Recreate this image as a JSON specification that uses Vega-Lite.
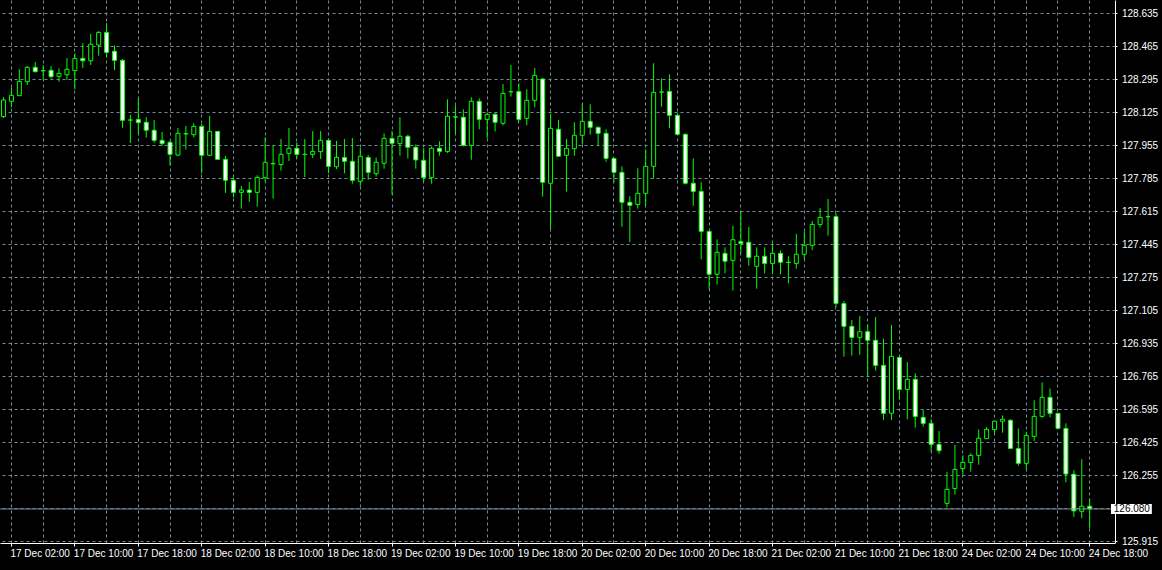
{
  "$schema": "https://vega.github.io/schema/vega-lite/v6.json",
  "width": 1115,
  "height": 543,
  "autosize": {"type": "none"},
  "padding": {"left": 0, "top": 0, "right": 47, "bottom": 27},
  "background": "#000000",
  "config": {
    "view": {"stroke": null},
    "axis": {
      "labelFont": "Liberation Sans",
      "labelFontSize": 10,
      "labelColor": "#FFFFFF",
      "domainColor": "#FFFFFF",
      "domainWidth": 1,
      "tickColor": "#FFFFFF",
      "tickWidth": 1,
      "gridColor": "#778899",
      "gridDash": [3, 3],
      "gridWidth": 1,
      "gridOpacity": 1,
      "labelOverlap": false,
      "labelBound": false,
      "labelFlush": false,
      "title": null
    }
  },
  "data": {
    "values": [
      {"i": -1, "t": "2018-12-17 01:00", "o": 128.101, "h": 128.202, "l": 128.094, "c": 128.187},
      {"i": 0, "t": "2018-12-17 02:00", "o": 128.180, "h": 128.252, "l": 128.149, "c": 128.211},
      {"i": 1, "t": "2018-12-17 03:00", "o": 128.209, "h": 128.345, "l": 128.209, "c": 128.283},
      {"i": 2, "t": "2018-12-17 04:00", "o": 128.281, "h": 128.362, "l": 128.264, "c": 128.355},
      {"i": 3, "t": "2018-12-17 05:00", "o": 128.355, "h": 128.383, "l": 128.328, "c": 128.333},
      {"i": 4, "t": "2018-12-17 06:00", "o": 128.338, "h": 128.365, "l": 128.293, "c": 128.337},
      {"i": 5, "t": "2018-12-17 07:00", "o": 128.340, "h": 128.362, "l": 128.297, "c": 128.307},
      {"i": 6, "t": "2018-12-17 08:00", "o": 128.309, "h": 128.350, "l": 128.281, "c": 128.324},
      {"i": 7, "t": "2018-12-17 09:00", "o": 128.317, "h": 128.403, "l": 128.290, "c": 128.345},
      {"i": 8, "t": "2018-12-17 10:00", "o": 128.338, "h": 128.427, "l": 128.242, "c": 128.401},
      {"i": 9, "t": "2018-12-17 11:00", "o": 128.401, "h": 128.480, "l": 128.352, "c": 128.389},
      {"i": 10, "t": "2018-12-17 12:00", "o": 128.389, "h": 128.527, "l": 128.367, "c": 128.474},
      {"i": 11, "t": "2018-12-17 13:00", "o": 128.470, "h": 128.542, "l": 128.415, "c": 128.535},
      {"i": 12, "t": "2018-12-17 14:00", "o": 128.535, "h": 128.583, "l": 128.407, "c": 128.432},
      {"i": 13, "t": "2018-12-17 15:00", "o": 128.438, "h": 128.468, "l": 128.341, "c": 128.391},
      {"i": 14, "t": "2018-12-17 16:00", "o": 128.391, "h": 128.398, "l": 128.043, "c": 128.082},
      {"i": 15, "t": "2018-12-17 17:00", "o": 128.083, "h": 128.110, "l": 127.965, "c": 128.084},
      {"i": 16, "t": "2018-12-17 18:00", "o": 128.087, "h": 128.192, "l": 128.013, "c": 128.070},
      {"i": 17, "t": "2018-12-17 19:00", "o": 128.072, "h": 128.098, "l": 127.993, "c": 128.031},
      {"i": 18, "t": "2018-12-17 20:00", "o": 128.031, "h": 128.084, "l": 127.967, "c": 127.979},
      {"i": 19, "t": "2018-12-17 21:00", "o": 127.979, "h": 128.022, "l": 127.950, "c": 127.962},
      {"i": 20, "t": "2018-12-17 22:00", "o": 127.969, "h": 127.977, "l": 127.849, "c": 127.907},
      {"i": 21, "t": "2018-12-17 23:00", "o": 127.903, "h": 128.043, "l": 127.898, "c": 128.015},
      {"i": 22, "t": "2018-12-18 00:00", "o": 128.013, "h": 128.053, "l": 127.931, "c": 128.012},
      {"i": 23, "t": "2018-12-18 01:00", "o": 128.008, "h": 128.067, "l": 127.995, "c": 128.051},
      {"i": 24, "t": "2018-12-18 02:00", "o": 128.051, "h": 128.063, "l": 127.809, "c": 127.902},
      {"i": 25, "t": "2018-12-18 03:00", "o": 127.902, "h": 128.104, "l": 127.900, "c": 128.025},
      {"i": 26, "t": "2018-12-18 04:00", "o": 128.025, "h": 128.027, "l": 127.879, "c": 127.881},
      {"i": 27, "t": "2018-12-18 05:00", "o": 127.881, "h": 127.898, "l": 127.708, "c": 127.773},
      {"i": 28, "t": "2018-12-18 06:00", "o": 127.773, "h": 127.788, "l": 127.685, "c": 127.711},
      {"i": 29, "t": "2018-12-18 07:00", "o": 127.711, "h": 127.744, "l": 127.627, "c": 127.723},
      {"i": 30, "t": "2018-12-18 08:00", "o": 127.723, "h": 127.764, "l": 127.663, "c": 127.711},
      {"i": 31, "t": "2018-12-18 09:00", "o": 127.711, "h": 127.799, "l": 127.637, "c": 127.788},
      {"i": 32, "t": "2018-12-18 10:00", "o": 127.787, "h": 127.995, "l": 127.766, "c": 127.866},
      {"i": 33, "t": "2018-12-18 11:00", "o": 127.860, "h": 127.953, "l": 127.679, "c": 127.858},
      {"i": 34, "t": "2018-12-18 12:00", "o": 127.854, "h": 127.986, "l": 127.823, "c": 127.907},
      {"i": 35, "t": "2018-12-18 13:00", "o": 127.912, "h": 128.043, "l": 127.873, "c": 127.938},
      {"i": 36, "t": "2018-12-18 14:00", "o": 127.938, "h": 127.969, "l": 127.885, "c": 127.907},
      {"i": 37, "t": "2018-12-18 15:00", "o": 127.907, "h": 127.986, "l": 127.790, "c": 127.906},
      {"i": 38, "t": "2018-12-18 16:00", "o": 127.907, "h": 128.027, "l": 127.888, "c": 127.922},
      {"i": 39, "t": "2018-12-18 17:00", "o": 127.921, "h": 128.027, "l": 127.883, "c": 127.979},
      {"i": 40, "t": "2018-12-18 18:00", "o": 127.979, "h": 127.989, "l": 127.809, "c": 127.845},
      {"i": 41, "t": "2018-12-18 19:00", "o": 127.843, "h": 127.976, "l": 127.831, "c": 127.891},
      {"i": 42, "t": "2018-12-18 20:00", "o": 127.891, "h": 127.986, "l": 127.809, "c": 127.871},
      {"i": 43, "t": "2018-12-18 21:00", "o": 127.871, "h": 127.991, "l": 127.756, "c": 127.773},
      {"i": 44, "t": "2018-12-18 22:00", "o": 127.768, "h": 127.940, "l": 127.742, "c": 127.897},
      {"i": 45, "t": "2018-12-18 23:00", "o": 127.891, "h": 127.903, "l": 127.776, "c": 127.814},
      {"i": 46, "t": "2018-12-19 00:00", "o": 127.807, "h": 127.891, "l": 127.792, "c": 127.866},
      {"i": 47, "t": "2018-12-19 01:00", "o": 127.861, "h": 128.015, "l": 127.833, "c": 127.989},
      {"i": 48, "t": "2018-12-19 02:00", "o": 127.989, "h": 128.027, "l": 127.699, "c": 127.964},
      {"i": 49, "t": "2018-12-19 03:00", "o": 127.962, "h": 128.098, "l": 127.900, "c": 128.000},
      {"i": 50, "t": "2018-12-19 04:00", "o": 128.000, "h": 128.007, "l": 127.885, "c": 127.943},
      {"i": 51, "t": "2018-12-19 05:00", "o": 127.943, "h": 127.958, "l": 127.833, "c": 127.878},
      {"i": 52, "t": "2018-12-19 06:00", "o": 127.876, "h": 127.938, "l": 127.766, "c": 127.788},
      {"i": 53, "t": "2018-12-19 07:00", "o": 127.788, "h": 127.948, "l": 127.756, "c": 127.938},
      {"i": 54, "t": "2018-12-19 08:00", "o": 127.938, "h": 127.974, "l": 127.900, "c": 127.922},
      {"i": 55, "t": "2018-12-19 09:00", "o": 127.922, "h": 128.190, "l": 127.914, "c": 128.103},
      {"i": 56, "t": "2018-12-19 10:00", "o": 128.100, "h": 128.159, "l": 128.015, "c": 128.099},
      {"i": 57, "t": "2018-12-19 11:00", "o": 128.098, "h": 128.139, "l": 127.948, "c": 127.953},
      {"i": 58, "t": "2018-12-19 12:00", "o": 127.953, "h": 128.201, "l": 127.879, "c": 128.180},
      {"i": 59, "t": "2018-12-19 13:00", "o": 128.180, "h": 128.195, "l": 128.036, "c": 128.087},
      {"i": 60, "t": "2018-12-19 14:00", "o": 128.087, "h": 128.123, "l": 127.989, "c": 128.113},
      {"i": 61, "t": "2018-12-19 15:00", "o": 128.113, "h": 128.123, "l": 128.025, "c": 128.072},
      {"i": 62, "t": "2018-12-19 16:00", "o": 128.067, "h": 128.269, "l": 128.056, "c": 128.221},
      {"i": 63, "t": "2018-12-19 17:00", "o": 128.229, "h": 128.367, "l": 128.204, "c": 128.230},
      {"i": 64, "t": "2018-12-19 18:00", "o": 128.230, "h": 128.273, "l": 128.077, "c": 128.087},
      {"i": 65, "t": "2018-12-19 19:00", "o": 128.092, "h": 128.242, "l": 128.056, "c": 128.185},
      {"i": 66, "t": "2018-12-19 20:00", "o": 128.185, "h": 128.352, "l": 128.149, "c": 128.314},
      {"i": 67, "t": "2018-12-19 21:00", "o": 128.295, "h": 128.300, "l": 127.689, "c": 127.763},
      {"i": 68, "t": "2018-12-19 22:00", "o": 127.758, "h": 128.116, "l": 127.522, "c": 128.041},
      {"i": 69, "t": "2018-12-19 23:00", "o": 128.036, "h": 128.084, "l": 127.895, "c": 127.897},
      {"i": 70, "t": "2018-12-20 00:00", "o": 127.902, "h": 127.986, "l": 127.715, "c": 127.938},
      {"i": 71, "t": "2018-12-20 01:00", "o": 127.936, "h": 128.072, "l": 127.900, "c": 128.005},
      {"i": 72, "t": "2018-12-20 02:00", "o": 128.005, "h": 128.165, "l": 127.958, "c": 128.077},
      {"i": 73, "t": "2018-12-20 03:00", "o": 128.077, "h": 128.165, "l": 128.008, "c": 128.046},
      {"i": 74, "t": "2018-12-20 04:00", "o": 128.046, "h": 128.051, "l": 127.953, "c": 128.015},
      {"i": 75, "t": "2018-12-20 05:00", "o": 128.015, "h": 128.036, "l": 127.869, "c": 127.886},
      {"i": 76, "t": "2018-12-20 06:00", "o": 127.886, "h": 127.886, "l": 127.763, "c": 127.814},
      {"i": 77, "t": "2018-12-20 07:00", "o": 127.814, "h": 127.845, "l": 127.534, "c": 127.660},
      {"i": 78, "t": "2018-12-20 08:00", "o": 127.660, "h": 127.691, "l": 127.454, "c": 127.644},
      {"i": 79, "t": "2018-12-20 09:00", "o": 127.649, "h": 127.835, "l": 127.627, "c": 127.706},
      {"i": 80, "t": "2018-12-20 10:00", "o": 127.706, "h": 127.933, "l": 127.642, "c": 127.845},
      {"i": 81, "t": "2018-12-20 11:00", "o": 127.845, "h": 128.376, "l": 127.783, "c": 128.226},
      {"i": 82, "t": "2018-12-20 12:00", "o": 128.227, "h": 128.298, "l": 128.152, "c": 128.228},
      {"i": 83, "t": "2018-12-20 13:00", "o": 128.231, "h": 128.319, "l": 128.041, "c": 128.108},
      {"i": 84, "t": "2018-12-20 14:00", "o": 128.108, "h": 128.118, "l": 128.005, "c": 128.010},
      {"i": 85, "t": "2018-12-20 15:00", "o": 128.010, "h": 128.015, "l": 127.752, "c": 127.758},
      {"i": 86, "t": "2018-12-20 16:00", "o": 127.758, "h": 127.886, "l": 127.642, "c": 127.716},
      {"i": 87, "t": "2018-12-20 17:00", "o": 127.716, "h": 127.763, "l": 127.366, "c": 127.510},
      {"i": 88, "t": "2018-12-20 18:00", "o": 127.510, "h": 127.510, "l": 127.211, "c": 127.289},
      {"i": 89, "t": "2018-12-20 19:00", "o": 127.289, "h": 127.469, "l": 127.237, "c": 127.402},
      {"i": 90, "t": "2018-12-20 20:00", "o": 127.397, "h": 127.428, "l": 127.294, "c": 127.356},
      {"i": 91, "t": "2018-12-20 21:00", "o": 127.361, "h": 127.538, "l": 127.205, "c": 127.467},
      {"i": 92, "t": "2018-12-20 22:00", "o": 127.457, "h": 127.610, "l": 127.397, "c": 127.448},
      {"i": 93, "t": "2018-12-20 23:00", "o": 127.454, "h": 127.533, "l": 127.333, "c": 127.376},
      {"i": 94, "t": "2018-12-21 00:00", "o": 127.330, "h": 127.428, "l": 127.215, "c": 127.382},
      {"i": 95, "t": "2018-12-21 01:00", "o": 127.382, "h": 127.428, "l": 127.294, "c": 127.345},
      {"i": 96, "t": "2018-12-21 02:00", "o": 127.345, "h": 127.448, "l": 127.289, "c": 127.397},
      {"i": 97, "t": "2018-12-21 03:00", "o": 127.397, "h": 127.412, "l": 127.289, "c": 127.351},
      {"i": 98, "t": "2018-12-21 04:00", "o": 127.351, "h": 127.382, "l": 127.242, "c": 127.350},
      {"i": 99, "t": "2018-12-21 05:00", "o": 127.345, "h": 127.497, "l": 127.318, "c": 127.392},
      {"i": 100, "t": "2018-12-21 06:00", "o": 127.392, "h": 127.510, "l": 127.366, "c": 127.438},
      {"i": 101, "t": "2018-12-21 07:00", "o": 127.438, "h": 127.563, "l": 127.414, "c": 127.546},
      {"i": 102, "t": "2018-12-21 08:00", "o": 127.546, "h": 127.630, "l": 127.531, "c": 127.582},
      {"i": 103, "t": "2018-12-21 09:00", "o": 127.585, "h": 127.677, "l": 127.488, "c": 127.586},
      {"i": 104, "t": "2018-12-21 10:00", "o": 127.586, "h": 127.603, "l": 127.119, "c": 127.139},
      {"i": 105, "t": "2018-12-21 11:00", "o": 127.138, "h": 127.151, "l": 126.865, "c": 127.021},
      {"i": 106, "t": "2018-12-21 12:00", "o": 127.021, "h": 127.054, "l": 126.870, "c": 126.964},
      {"i": 107, "t": "2018-12-21 13:00", "o": 126.964, "h": 127.074, "l": 126.875, "c": 126.993},
      {"i": 108, "t": "2018-12-21 14:00", "o": 126.993, "h": 127.031, "l": 126.762, "c": 126.949},
      {"i": 109, "t": "2018-12-21 15:00", "o": 126.949, "h": 127.069, "l": 126.793, "c": 126.820},
      {"i": 110, "t": "2018-12-21 16:00", "o": 126.820, "h": 126.957, "l": 126.538, "c": 126.573},
      {"i": 111, "t": "2018-12-21 17:00", "o": 126.573, "h": 127.028, "l": 126.538, "c": 126.866},
      {"i": 112, "t": "2018-12-21 18:00", "o": 126.861, "h": 126.865, "l": 126.645, "c": 126.696},
      {"i": 113, "t": "2018-12-21 19:00", "o": 126.696, "h": 126.837, "l": 126.542, "c": 126.748},
      {"i": 114, "t": "2018-12-21 20:00", "o": 126.748, "h": 126.779, "l": 126.499, "c": 126.556},
      {"i": 115, "t": "2018-12-21 21:00", "o": 126.552, "h": 126.590, "l": 126.504, "c": 126.521},
      {"i": 116, "t": "2018-12-21 22:00", "o": 126.521, "h": 126.542, "l": 126.375, "c": 126.413},
      {"i": 117, "t": "2018-12-21 23:00", "o": 126.413, "h": 126.482, "l": 126.365, "c": 126.380},
      {"i": 118, "t": "2018-12-24 00:00", "o": 126.109, "h": 126.270, "l": 126.088, "c": 126.181},
      {"i": 119, "t": "2018-12-24 01:00", "o": 126.185, "h": 126.410, "l": 126.154, "c": 126.284},
      {"i": 120, "t": "2018-12-24 02:00", "o": 126.288, "h": 126.356, "l": 126.257, "c": 126.320},
      {"i": 121, "t": "2018-12-24 03:00", "o": 126.319, "h": 126.367, "l": 126.272, "c": 126.356},
      {"i": 122, "t": "2018-12-24 04:00", "o": 126.356, "h": 126.490, "l": 126.308, "c": 126.444},
      {"i": 123, "t": "2018-12-24 05:00", "o": 126.442, "h": 126.501, "l": 126.442, "c": 126.490},
      {"i": 124, "t": "2018-12-24 06:00", "o": 126.489, "h": 126.532, "l": 126.468, "c": 126.532},
      {"i": 125, "t": "2018-12-24 07:00", "o": 126.532, "h": 126.562, "l": 126.473, "c": 126.542},
      {"i": 126, "t": "2018-12-24 08:00", "o": 126.537, "h": 126.542, "l": 126.392, "c": 126.392},
      {"i": 127, "t": "2018-12-24 09:00", "o": 126.391, "h": 126.495, "l": 126.303, "c": 126.315},
      {"i": 128, "t": "2018-12-24 10:00", "o": 126.315, "h": 126.478, "l": 126.284, "c": 126.459},
      {"i": 129, "t": "2018-12-24 11:00", "o": 126.454, "h": 126.640, "l": 126.430, "c": 126.557},
      {"i": 130, "t": "2018-12-24 12:00", "o": 126.557, "h": 126.732, "l": 126.550, "c": 126.655},
      {"i": 131, "t": "2018-12-24 13:00", "o": 126.655, "h": 126.701, "l": 126.552, "c": 126.573},
      {"i": 132, "t": "2018-12-24 14:00", "o": 126.573, "h": 126.573, "l": 126.495, "c": 126.495},
      {"i": 133, "t": "2018-12-24 15:00", "o": 126.495, "h": 126.521, "l": 126.217, "c": 126.260},
      {"i": 134, "t": "2018-12-24 16:00", "o": 126.259, "h": 126.279, "l": 126.040, "c": 126.070},
      {"i": 135, "t": "2018-12-24 17:00", "o": 126.068, "h": 126.336, "l": 126.032, "c": 126.094},
      {"i": 136, "t": "2018-12-24 18:00", "o": 126.094, "h": 126.133, "l": 125.980, "c": 126.080}
    ]
  },
  "layer": [
    {
      "mark": {"type": "rule", "color": "#00FF00", "strokeWidth": 1, "xOffset": 0.5, "clip": true},
      "encoding": {
        "x": {
          "field": "i",
          "type": "quantitative",
          "scale": {"domain": [-0.75, 138.625], "nice": false, "zero": false},
          "axis": {
            "orient": "bottom",
            "values": [0, 4, 8, 12, 16, 20, 24, 28, 32, 36, 40, 44, 48, 52, 56, 60, 64, 68, 72, 76, 80, 84, 88, 92, 96, 100, 104, 108, 112, 116, 120, 124, 128, 132, 136],
            "tickCount": 60,
            "grid": true,
            "tickSize": 3,
            "tickOpacity": {"condition": {"test": "datum.value % 8 === 0", "value": 1}, "value": 0},
            "labelAlign": "left",
            "labelBaseline": "top",
            "labelPadding": 2.5,
            "labelOffset": -1,
            "labelOverlap": false,
            "labelExpr": "datum.value % 8 === 0 ? ['17 Dec 02:00','17 Dec 10:00','17 Dec 18:00','18 Dec 02:00','18 Dec 10:00','18 Dec 18:00','19 Dec 02:00','19 Dec 10:00','19 Dec 18:00','20 Dec 02:00','20 Dec 10:00','20 Dec 18:00','21 Dec 02:00','21 Dec 10:00','21 Dec 18:00','24 Dec 02:00','24 Dec 10:00','24 Dec 18:00'][datum.value / 8] : ''"
          }
        },
        "y": {
          "field": "l",
          "type": "quantitative",
          "scale": {"domain": [125.9047, 128.70197], "nice": false, "zero": false},
          "axis": {
            "orient": "right",
            "values": [125.915, 126.085, 126.255, 126.425, 126.595, 126.765, 126.935, 127.105, 127.275, 127.445, 127.615, 127.785, 127.955, 128.125, 128.295, 128.465, 128.635],
            "tickCount": 30,
            "grid": true,
            "tickSize": 2,
            "labelPadding": 4.5,
            "labelAlign": "left",
            "labelBaseline": "middle",
            "labelOverlap": false,
            "labelExpr": "abs(datum.value - 126.085) < 0.001 ? '' : format(datum.value, '.3f')"
          }
        },
        "y2": {"field": "h"}
      }
    },
    {
      "mark": {"type": "bar", "width": 4, "stroke": "#00FF00", "strokeWidth": 1, "xOffset": 0.5, "clip": true},
      "encoding": {
        "x": {"field": "i", "type": "quantitative"},
        "y": {"field": "o", "type": "quantitative"},
        "y2": {"field": "c"},
        "fill": {"condition": {"test": "datum.c < datum.o", "value": "#FFFFFF"}, "value": "#000000"}
      }
    },
    {
      "transform": [{"filter": "datum.i == 136"}],
      "mark": {"type": "rule", "color": "#778899", "strokeWidth": 1},
      "encoding": {
        "y": {"field": "c", "type": "quantitative"}
      }
    },
    {
      "transform": [{"filter": "datum.i == 136"}],
      "mark": {"type": "rect", "fill": "#FFFFFF", "clip": false, "yOffset": -5, "y2Offset": 5},
      "encoding": {
        "x": {"datum": 138.75},
        "x2": {"datum": 143.9},
        "y": {"field": "c", "type": "quantitative"},
        "y2": {"field": "c"}
      }
    },
    {
      "transform": [{"filter": "datum.i == 136"}],
      "mark": {"type": "text", "color": "#000000", "font": "Liberation Sans", "fontSize": 10, "align": "left", "baseline": "middle", "clip": false},
      "encoding": {
        "x": {"datum": 139.1},
        "y": {"field": "c", "type": "quantitative"},
        "text": {"field": "c", "format": ".3f"}
      }
    }
  ]
}
